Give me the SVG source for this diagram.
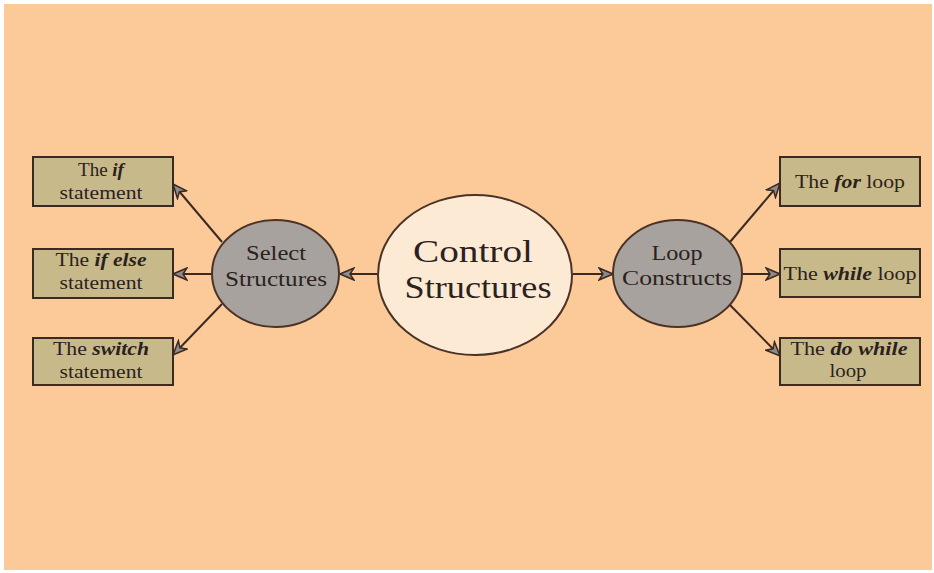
<svg xmlns="http://www.w3.org/2000/svg" width="934" height="573" viewBox="0 0 934 573">
<style>
.t{font-family:"Liberation Serif","Times New Roman",serif;fill:#2b2220;text-anchor:middle}
.bx{fill:#C8B98A;stroke:#3a2a22;stroke-width:2}
.el{stroke:#4a3326;stroke-width:2}
.c{stroke:#3a2a22;stroke-width:2;fill:none;marker-end:url(#ah)}
.bi{font-weight:bold;font-style:italic}
</style>
<defs>
<marker id="ah" viewBox="0 0 16 14" refX="15" refY="7" markerWidth="16" markerHeight="14" markerUnits="userSpaceOnUse" orient="auto">
<path d="M1,1 L15,7 L1,13 L5,7 z" fill="#8e8a8a" stroke="#3a2a22" stroke-width="1.5"/>
</marker>
</defs>
<rect x="0" y="0" width="934" height="573" fill="#ffffff"/>
<rect x="4" y="4" width="928" height="566" fill="#FCC999"/>
<g id="connectors">
<line class="c" x1="377" y1="274" x2="340" y2="274"/>
<line class="c" x1="573" y1="274" x2="613" y2="274"/>
<line class="c" x1="222" y1="242" x2="173" y2="184"/>
<line class="c" x1="212" y1="274" x2="173" y2="274"/>
<line class="c" x1="222" y1="304" x2="173" y2="355"/>
<line class="c" x1="730" y1="242" x2="780" y2="183"/>
<line class="c" x1="742" y1="274" x2="780" y2="274"/>
<line class="c" x1="730" y1="305" x2="780" y2="356"/>
</g>
<g id="control" font-family="Liberation Serif, serif">
<ellipse class="el" cx="475" cy="275" rx="97" ry="80" fill="#FDEAD5"/>
<text class="t" x="473" y="262" font-size="31" textLength="120" lengthAdjust="spacingAndGlyphs">Control</text>
<text class="t" x="478" y="298" font-size="31" textLength="147" lengthAdjust="spacingAndGlyphs">Structures</text>
</g>
<g id="select" font-family="Liberation Serif, serif">
<ellipse class="el" cx="275.5" cy="273.5" rx="63.5" ry="53.5" fill="#A8A29E"/>
<text class="t" x="276" y="260" font-size="21" textLength="60" lengthAdjust="spacingAndGlyphs">Select</text>
<text class="t" x="276" y="286" font-size="21" textLength="102" lengthAdjust="spacingAndGlyphs">Structures</text>
</g>
<g id="loop" font-family="Liberation Serif, serif">
<ellipse class="el" cx="677.5" cy="273.5" rx="64.5" ry="53.5" fill="#A8A29E"/>
<text class="t" x="677" y="260" font-size="21" textLength="51" lengthAdjust="spacingAndGlyphs">Loop</text>
<text class="t" x="677" y="285" font-size="21" textLength="110" lengthAdjust="spacingAndGlyphs">Constructs</text>
</g>
<g id="if" font-family="Liberation Serif, serif">
<rect class="bx" x="33" y="157" width="140" height="49"/>
<text class="t" x="101" y="176" font-size="19">The <tspan class="bi">if</tspan></text>
<text class="t" x="101" y="199" font-size="19" textLength="83" lengthAdjust="spacingAndGlyphs">statement</text>
</g>
<g id="ifelse" font-family="Liberation Serif, serif">
<rect class="bx" x="33" y="249" width="140" height="49"/>
<text class="t" x="101" y="266" font-size="19" textLength="91" lengthAdjust="spacingAndGlyphs">The <tspan class="bi">if else</tspan></text>
<text class="t" x="101" y="289" font-size="19" textLength="83" lengthAdjust="spacingAndGlyphs">statement</text>
</g>
<g id="switch" font-family="Liberation Serif, serif">
<rect class="bx" x="33" y="338" width="140" height="47"/>
<text class="t" x="101" y="355" font-size="19" textLength="96" lengthAdjust="spacingAndGlyphs">The <tspan class="bi">switch</tspan></text>
<text class="t" x="101" y="378" font-size="19" textLength="83" lengthAdjust="spacingAndGlyphs">statement</text>
</g>
<g id="for" font-family="Liberation Serif, serif">
<rect class="bx" x="780" y="157" width="140" height="49"/>
<text class="t" x="850" y="188" font-size="19" textLength="110" lengthAdjust="spacingAndGlyphs">The <tspan class="bi">for</tspan> loop</text>
</g>
<g id="while" font-family="Liberation Serif, serif">
<rect class="bx" x="780" y="249" width="140" height="48"/>
<text class="t" x="850" y="280" font-size="19" textLength="133" lengthAdjust="spacingAndGlyphs">The <tspan class="bi">while</tspan> loop</text>
</g>
<g id="dowhile" font-family="Liberation Serif, serif">
<rect class="bx" x="780" y="338" width="140" height="47"/>
<text class="t" x="849" y="355" font-size="19" textLength="117" lengthAdjust="spacingAndGlyphs">The <tspan class="bi">do while</tspan></text>
<text class="t" x="848" y="377" font-size="19" textLength="37" lengthAdjust="spacingAndGlyphs">loop</text>
</g>
</svg>
